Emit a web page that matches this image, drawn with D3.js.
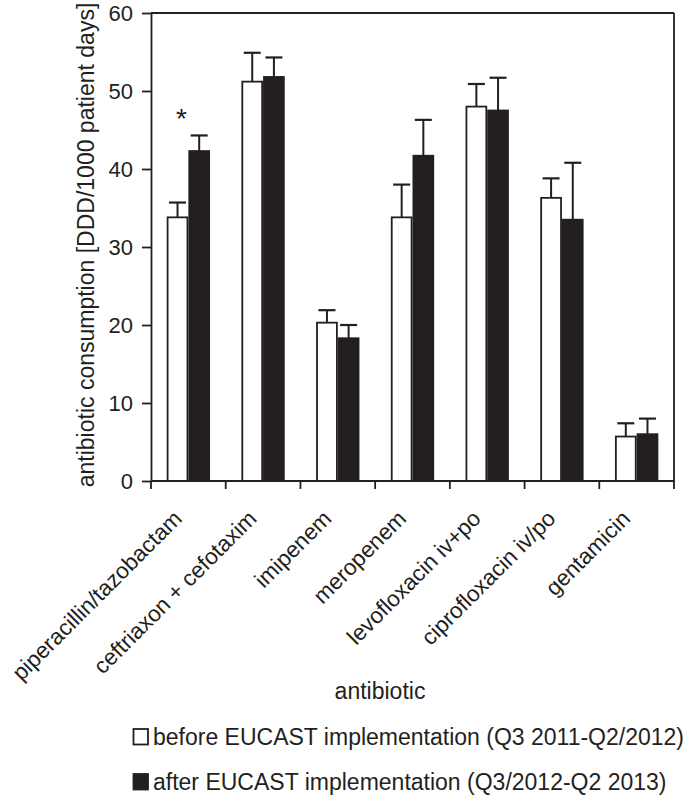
<!DOCTYPE html>
<html><head><meta charset="utf-8">
<script src="https://cdn.jsdelivr.net/npm/d3@7"></script>
<style>body{margin:0;background:#fff}svg{display:block}text{font-family:"Liberation Sans",Arial,sans-serif;fill:#231f20}</style>
</head><body>
<svg id="c" width="685" height="799"></svg>
<script>
const categories = ["piperacillin/tazobactam","ceftriaxon + cefotaxim","imipenem","meropenem","levofloxacin iv+po","ciprofloxacin iv/po","gentamicin"];
const seriesNames = ["before EUCAST implementation (Q3 2011-Q2/2012)","after EUCAST implementation (Q3/2012-Q2 2013)"];
const beforeValues = [33.8, 51.2, 20.3, 33.8, 48.0, 36.3, 5.7];
const beforeErrors = [35.7, 54.9, 21.9, 38.0, 50.9, 38.8, 7.4];
const afterValues  = [42.3, 51.8, 18.3, 41.7, 47.5, 33.5, 6.0];
const afterErrors  = [44.3, 54.3, 20.0, 46.3, 51.7, 40.8, 8.0];
const yTicks = [0,10,20,30,40,50,60];
const annotations = [{cat:0, text:"*"}];

const ink = "#231f20";
const svg = d3.select("#c");
const L=151, R=674, T=13, B=481;
const x = d3.scaleBand().domain(categories).range([L,R]).paddingInner(0.42).paddingOuter(0.21);
const xs = d3.scaleBand().domain([0,1]).range([0,x.bandwidth()]);
const y = d3.scaleLinear().domain([0,60]).range([B,T]);

const series = [
  {vals:beforeValues, errs:beforeErrors, fill:"#fff"},
  {vals:afterValues, errs:afterErrors, fill:ink}
];

const g = svg.append("g");
g.append("line").attr("x1",L).attr("x2",R).attr("y1",T).attr("y2",T).attr("stroke",ink).attr("stroke-width",1.8);
g.append("line").attr("x1",R).attr("x2",R).attr("y1",T).attr("y2",B).attr("stroke",ink).attr("stroke-width",1.8);

series.forEach((s,si)=>{
  const gg = g.append("g");
  const cx = c=>x(c)+xs(si)+xs.bandwidth()/2;
  gg.selectAll("line.err").data(categories).join("line")
    .attr("x1",cx).attr("x2",cx)
    .attr("y1",(c,i)=>y(s.vals[i])).attr("y2",(c,i)=>y(s.errs[i]))
    .attr("stroke",ink).attr("stroke-width",2);
  gg.selectAll("line.cap").data(categories).join("line")
    .attr("x1",c=>cx(c)-8.5).attr("x2",c=>cx(c)+8.5)
    .attr("y1",(c,i)=>y(s.errs[i])).attr("y2",(c,i)=>y(s.errs[i]))
    .attr("stroke",ink).attr("stroke-width",2.2);
  gg.selectAll("rect").data(categories).join("rect")
    .attr("x",c=>x(c)+xs(si)+0.9).attr("width",xs.bandwidth()-1.8)
    .attr("y",(c,i)=>y(s.vals[i])).attr("height",(c,i)=>B-y(s.vals[i]))
    .attr("fill",s.fill).attr("stroke",ink).attr("stroke-width",1.8);
});

// y axis
const ya = g.append("g").attr("transform",`translate(${L},0)`)
  .call(d3.axisLeft(y).tickValues(yTicks).tickSize(9).tickSizeOuter(0).tickPadding(9));
ya.select(".domain").attr("stroke",ink).attr("stroke-width",1.8);
ya.selectAll(".tick line").attr("stroke",ink).attr("stroke-width",1.8);
ya.selectAll(".tick text").attr("font-size",22).style("fill",ink).style("font-family",'"Liberation Sans",Arial,sans-serif');

// x axis with ticks at band boundaries
const xa = g.append("g").attr("transform",`translate(0,${B})`);
xa.append("line").attr("x1",L).attr("x2",R).attr("stroke",ink).attr("stroke-width",1.8);
const step = x.step();
const bounds = d3.range(categories.length+1).map(i=>x(categories[0]) - x.paddingInner()*step/2 + i*step);
xa.selectAll("line.t").data(bounds).join("line").attr("x1",d=>d).attr("x2",d=>d).attr("y1",0).attr("y2",8)
  .attr("stroke",ink).attr("stroke-width",1.8);
xa.selectAll("text").data(categories).join("text")
  .attr("transform",c=>`translate(${x(c)+x.bandwidth()/2-5},${39}) rotate(-45)`)
  .attr("text-anchor","end").attr("font-size",22.5).text(c=>c);

// annotation
annotations.forEach(a=>{
  g.append("text").attr("x",x(categories[a.cat])+xs.bandwidth()/2+4).attr("y",128)
   .attr("text-anchor","middle").attr("font-size",28).text(a.text);
});

// axis titles
svg.append("text").attr("transform",`translate(94,245) rotate(-90)`).attr("text-anchor","middle")
  .attr("font-size",23).text("antibiotic consumption [DDD/1000 patient days]");
svg.append("text").attr("x",380).attr("y",699).attr("text-anchor","middle").attr("font-size",23).text("antibiotic");

// legend
const lg = svg.append("g");
const legendBase = [745, 790];
seriesNames.forEach((n,i)=>{
  const yy = legendBase[i];
  lg.append("rect").attr("x",133.5).attr("y",yy-16).attr("width",14.5).attr("height",15.5)
    .attr("fill",series[i].fill).attr("stroke",ink).attr("stroke-width",1.8);
  lg.append("text").attr("x",153).attr("y",yy).attr("font-size",23).text(n);
});
</script>
</body></html>
